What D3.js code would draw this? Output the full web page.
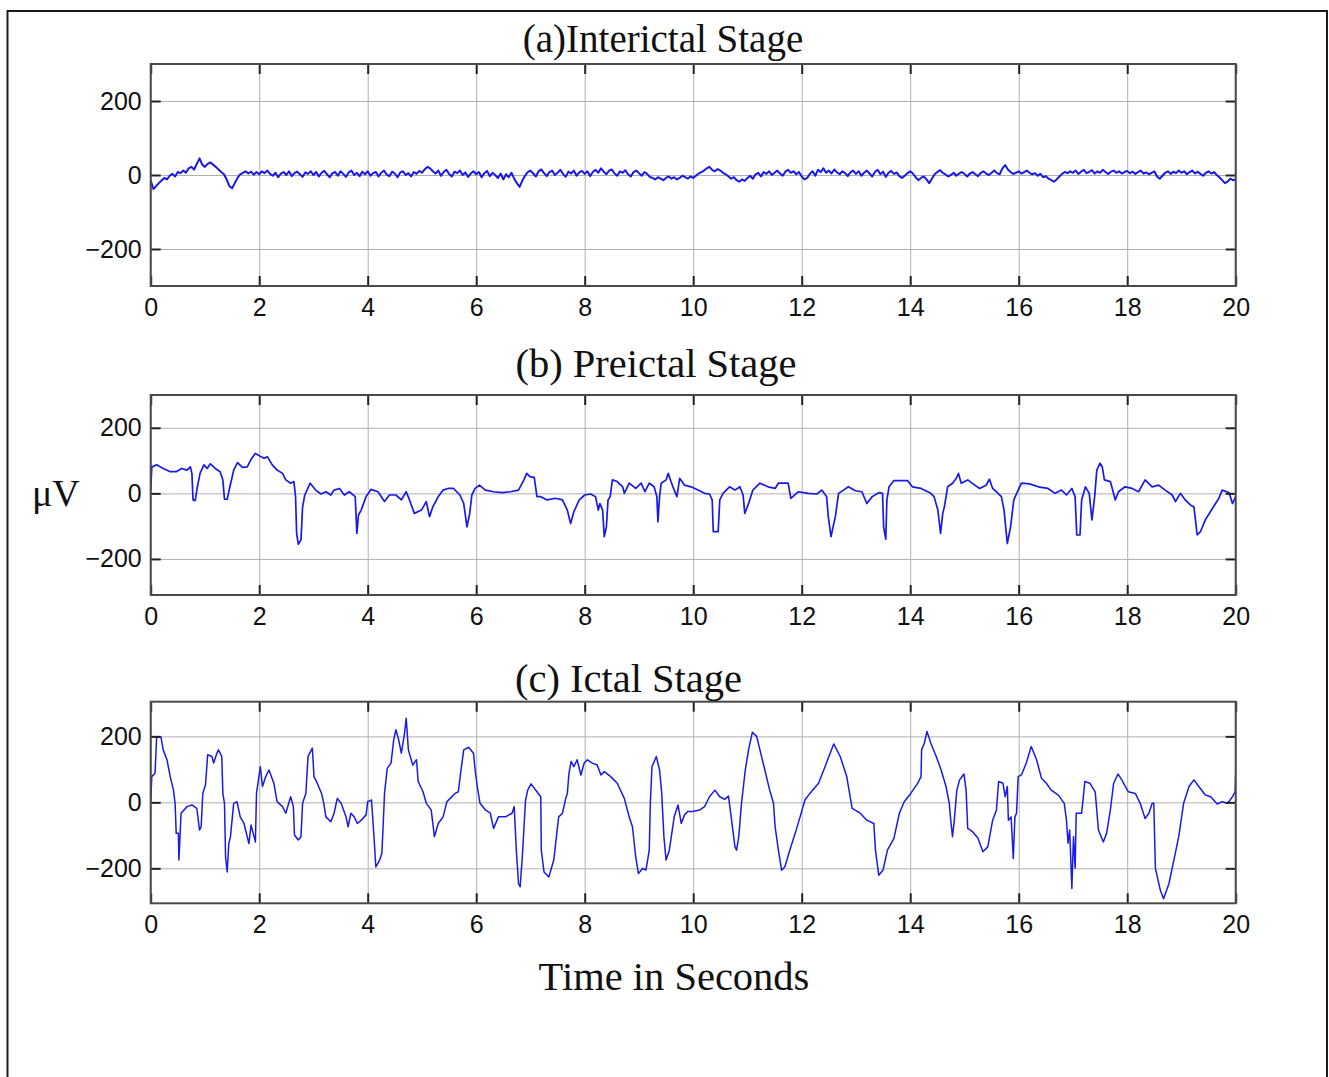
<!DOCTYPE html>
<html>
<head>
<meta charset="utf-8">
<script src="https://cdn.jsdelivr.net/npm/d3@7"></script>
<style>
  body { margin: 0; background: #fff; }
  svg { display: block; }
</style>
</head>
<body>
<script>
// ---------------- DATA ----------------
const xTicks = [0, 2, 4, 6, 8, 10, 12, 14, 16, 18, 20];
const yTicks = [-200, 0, 200];
const panelTitles = ["(a)Interictal Stage", "(b) Preictal Stage", "(c) Ictal Stage"];
const yAxisLabel = "\u03bcV";
const xAxisLabel = "Time in Seconds";

// Interictal: sampled every 0.05 s (µV)
const interictalStep = 0.05;
const interictalValues = [
  -15,-38,-30,-22,-15,-8,-12,-2,3,-4,8,5,12,6,18,22,15,30,45,28,
  22,30,34,28,22,15,8,2,-12,-30,-36,-22,-8,2,6,10,4,9,1,8,
  2,10,5,12,3,-2,6,-6,4,8,0,10,-3,5,9,2,-5,7,3,10,
  0,8,-4,6,11,2,-6,5,8,-2,10,3,-5,7,12,0,6,-3,9,2,
  10,-2,5,8,-4,6,12,1,-3,9,4,-6,7,10,0,5,-4,8,3,11,
  6,15,22,18,10,4,12,-2,8,14,3,-4,9,5,12,0,7,-5,4,10,
  2,8,-6,5,11,-3,6,0,-8,4,-12,2,-6,6,-10,-22,-32,-15,-2,8,
  12,4,-4,10,15,5,-3,8,12,0,6,14,3,-5,9,4,12,-2,7,11,
  3,10,-3,8,14,6,18,9,2,12,15,4,-2,10,6,13,2,-4,8,12,
  5,-2,8,3,-5,-8,-12,-6,-10,-14,-8,-4,-10,-6,-12,-8,-2,-6,-10,-4,
  -8,-2,4,8,12,18,22,14,10,16,12,6,2,-4,-10,-6,-14,-18,-12,-16,
  -8,-2,-10,2,6,-4,8,3,10,0,6,12,4,-2,9,14,6,10,2,8,
  -4,-12,-8,3,10,-2,14,8,18,6,12,4,15,7,2,10,5,-3,8,12,
  3,10,-2,6,12,4,-4,8,14,2,9,-5,6,11,3,7,-3,-8,-2,5,
  10,4,-6,-14,-8,-4,-12,-22,-10,2,8,13,6,2,-4,0,6,-2,4,8,
  3,-4,4,8,2,-3,6,10,4,0,6,12,5,2,18,27,15,8,3,6,
  10,4,8,12,6,2,5,-2,3,-6,-3,-10,-14,-18,-12,-4,3,8,5,10,
  6,12,3,9,14,5,8,13,4,10,6,14,8,3,9,12,6,10,4,8,
  11,5,9,3,8,12,4,7,2,6,10,-4,-10,-2,6,10,3,9,5,12,
  6,10,2,8,12,4,9,3,-2,6,10,4,8,0,-6,-14,-22,-18,-10,-14,-12
];

// Preictal: [time s, µV]
const preictalSeries = [
  [0,10],[0.02,80],[0.11,87],[0.23,76],[0.36,66],[0.47,66],[0.57,76],[0.67,71],[0.73,81],[0.76,61],
  [0.78,-20],[0.82,-22],[0.86,20],[0.91,61],[0.98,87],[1.04,76],[1.10,90],[1.19,76],[1.28,66],[1.33,41],
  [1.36,-18],[1.41,-18],[1.46,20],[1.53,71],[1.60,94],[1.69,79],[1.78,81],[1.85,104],[1.93,122],[2.01,114],
  [2.09,107],[2.15,112],[2.24,87],[2.33,71],[2.43,61],[2.49,41],[2.58,31],[2.64,36],[2.67,-10],[2.69,-122],
  [2.72,-155],[2.77,-142],[2.80,-41],[2.84,-5],[2.94,31],[3.04,10],[3.14,-2],[3.23,5],[3.32,-5],[3.38,10],
  [3.48,15],[3.57,-5],[3.66,5],[3.77,-10],[3.80,-122],[3.83,-66],[3.88,-51],[3.97,-10],[4.06,12],[4.19,5],
  [4.31,-25],[4.40,-5],[4.52,-5],[4.62,-20],[4.71,5],[4.77,-20],[4.86,-61],[4.99,-51],[5.08,-25],[5.14,-71],
  [5.20,-41],[5.30,-10],[5.39,10],[5.48,15],[5.58,15],[5.70,-5],[5.77,-31],[5.83,-102],[5.88,-61],[5.92,-5],
  [5.98,15],[6.06,25],[6.17,10],[6.32,5],[6.48,2],[6.63,5],[6.78,10],[6.88,41],[6.93,61],[6.99,51],
  [7.07,49],[7.12,-10],[7.19,-10],[7.31,-20],[7.46,-15],[7.59,-20],[7.68,-51],[7.74,-92],[7.80,-56],[7.90,-20],
  [8.00,-5],[8.11,-2],[8.20,-10],[8.25,-51],[8.28,-31],[8.33,-51],[8.36,-132],[8.40,-102],[8.43,-20],[8.47,-10],
  [8.51,41],[8.60,36],[8.70,20],[8.73,0],[8.82,31],[8.94,15],[9.04,31],[9.11,5],[9.19,31],[9.28,20],
  [9.33,-10],[9.35,-87],[9.38,-10],[9.41,31],[9.50,41],[9.54,61],[9.59,36],[9.65,10],[9.70,-10],[9.75,46],
  [9.84,25],[9.96,20],[10.09,10],[10.21,0],[10.30,-2],[10.35,-20],[10.37,-117],[10.46,-117],[10.49,-20],[10.55,0],
  [10.67,20],[10.77,10],[10.86,20],[10.92,-5],[10.95,-61],[11.01,-36],[11.10,10],[11.23,31],[11.38,20],[11.51,15],
  [11.57,31],[11.75,31],[11.80,-15],[11.94,5],[12.12,0],[12.28,-2],[12.37,10],[12.46,-10],[12.49,-71],[12.54,-132],
  [12.62,-71],[12.68,0],[12.77,10],[12.86,20],[12.99,8],[13.11,5],[13.20,-31],[13.30,-10],[13.42,2],[13.49,0],
  [13.51,-102],[13.55,-140],[13.57,-20],[13.61,20],[13.70,39],[13.95,39],[14.04,20],[14.20,15],[14.38,0],[14.44,-10],
  [14.51,-51],[14.56,-122],[14.60,-61],[14.63,-41],[14.69,20],[14.78,31],[14.85,46],[14.89,61],[14.94,31],[15.06,41],
  [15.19,25],[15.28,15],[15.40,25],[15.46,43],[15.52,15],[15.62,0],[15.68,-10],[15.73,-51],[15.79,-153],[15.85,-102],
  [15.91,-20],[15.99,10],[16.05,31],[16.20,29],[16.36,20],[16.54,15],[16.67,0],[16.79,10],[16.88,-5],[16.98,15],
  [17.04,-10],[17.07,-127],[17.13,-127],[17.16,-20],[17.23,20],[17.30,0],[17.35,-81],[17.40,-10],[17.44,71],[17.50,92],
  [17.54,81],[17.58,41],[17.69,36],[17.78,-20],[17.84,5],[17.96,20],[18.09,15],[18.21,5],[18.33,41],[18.46,20],
  [18.58,25],[18.70,10],[18.83,-5],[18.89,-25],[18.98,0],[19.07,-20],[19.17,-36],[19.23,-41],[19.29,-127],[19.35,-117],
  [19.44,-81],[19.57,-46],[19.69,-15],[19.75,10],[19.88,2],[19.94,-31],[20,-10]
];

// Ictal: [time s, µV]
const ictalSeries = [
  [0,2],[0.02,78],[0.08,88],[0.11,198],[0.19,198],[0.23,159],[0.30,129],[0.36,78],[0.42,37],[0.45,-3],
  [0.47,-94],[0.51,-94],[0.52,-175],[0.56,-33],[0.67,-13],[0.76,-8],[0.85,-18],[0.90,-84],[0.93,-74],[0.96,27],
  [1.01,53],[1.05,144],[1.13,139],[1.16,119],[1.22,149],[1.25,159],[1.31,139],[1.33,27],[1.36,-3],[1.38,-165],
  [1.41,-211],[1.44,-125],[1.47,-104],[1.53,-3],[1.59,2],[1.65,-44],[1.72,-64],[1.81,-125],[1.85,-69],[1.93,-120],
  [1.95,27],[1.99,73],[2.02,108],[2.06,48],[2.12,78],[2.18,98],[2.27,58],[2.33,2],[2.43,-13],[2.49,-33],
  [2.58,17],[2.63,-13],[2.65,-99],[2.72,-114],[2.77,-104],[2.80,-3],[2.86,27],[2.90,139],[2.98,164],[3.01,78],
  [3.07,58],[3.15,27],[3.19,-3],[3.23,-44],[3.32,-59],[3.38,-33],[3.44,12],[3.51,-3],[3.60,-44],[3.64,-74],
  [3.69,-33],[3.75,-44],[3.81,-64],[3.88,-54],[3.97,-38],[4.00,2],[4.07,7],[4.11,-89],[4.15,-196],[4.22,-175],
  [4.26,-155],[4.28,-89],[4.31,27],[4.36,103],[4.43,119],[4.48,190],[4.52,220],[4.57,190],[4.62,149],[4.68,210],
  [4.71,255],[4.75,159],[4.83,113],[4.90,129],[4.93,63],[5.02,32],[5.08,-3],[5.17,-23],[5.23,-104],[5.30,-64],
  [5.39,-44],[5.46,2],[5.52,12],[5.61,27],[5.67,32],[5.72,98],[5.77,159],[5.86,167],[5.95,149],[5.98,98],
  [6.02,48],[6.07,-3],[6.17,-23],[6.26,-33],[6.32,-79],[6.41,-44],[6.54,-44],[6.66,-33],[6.70,-13],[6.74,-145],
  [6.78,-246],[6.81,-256],[6.85,-165],[6.91,7],[6.95,37],[7.01,56],[7.12,32],[7.19,17],[7.20,-145],[7.25,-211],
  [7.34,-226],[7.43,-175],[7.52,-44],[7.59,-33],[7.65,12],[7.68,27],[7.71,88],[7.75,124],[7.80,108],[7.86,129],
  [7.93,83],[7.99,119],[8.05,129],[8.14,119],[8.23,113],[8.30,83],[8.36,93],[8.48,78],[8.60,58],[8.73,12],
  [8.82,-44],[8.88,-74],[8.94,-165],[8.99,-216],[9.07,-200],[9.13,-205],[9.19,-145],[9.21,-3],[9.24,108],[9.32,139],
  [9.38,98],[9.42,27],[9.46,-104],[9.50,-175],[9.56,-145],[9.65,-44],[9.72,-8],[9.78,-64],[9.84,-38],[9.90,-28],
  [9.99,-28],[10.12,-23],[10.21,-13],[10.30,17],[10.40,37],[10.49,17],[10.58,9],[10.65,19],[10.70,-44],[10.77,-135],
  [10.80,-145],[10.84,-104],[10.89,-3],[10.96,98],[11.02,159],[11.09,212],[11.17,200],[11.23,159],[11.32,98],[11.41,37],
  [11.48,-3],[11.51,-74],[11.57,-145],[11.63,-206],[11.69,-195],[11.78,-145],[11.88,-94],[11.97,-44],[12.06,7],[12.15,27],
  [12.31,58],[12.43,108],[12.59,177],[12.71,139],[12.83,78],[12.93,-18],[13.08,-33],[13.20,-54],[13.33,-64],[13.36,-145],
  [13.42,-221],[13.50,-205],[13.58,-145],[13.70,-109],[13.80,-33],[13.89,2],[14.01,27],[14.14,58],[14.20,78],[14.21,159],
  [14.26,179],[14.31,215],[14.38,179],[14.48,139],[14.57,98],[14.66,48],[14.72,-3],[14.75,-59],[14.78,-104],[14.81,-59],
  [14.86,37],[14.91,68],[14.99,86],[15.03,37],[15.06,-79],[15.15,-89],[15.25,-109],[15.34,-150],[15.43,-135],[15.52,-54],
  [15.59,-23],[15.63,63],[15.71,58],[15.75,17],[15.79,48],[15.81,-54],[15.86,-44],[15.90,-170],[15.93,-44],[15.96,-33],
  [15.99,78],[16.05,83],[16.14,119],[16.23,169],[16.33,129],[16.42,73],[16.51,58],[16.60,37],[16.73,22],[16.84,-3],
  [16.88,-54],[16.91,-124],[16.94,-84],[16.98,-261],[17.01,-104],[17.04,-200],[17.06,-33],[17.16,-33],[17.22,63],[17.31,58],
  [17.41,32],[17.47,-84],[17.56,-120],[17.62,-94],[17.69,-23],[17.75,58],[17.83,86],[17.90,68],[18.02,32],[18.15,27],
  [18.24,-3],[18.33,-49],[18.40,-33],[18.46,-3],[18.49,-3],[18.52,-200],[18.61,-266],[18.67,-292],[18.77,-246],[18.86,-175],
  [18.95,-104],[19.04,-3],[19.14,48],[19.23,68],[19.32,48],[19.44,22],[19.54,17],[19.66,-5],[19.75,2],[19.85,-3],
  [19.94,17],[19.99,32],[20,91]
];

// ---------------- LAYOUT ----------------
const W = 1329, H = 1077;
const plotLeft = 150.7, plotRight = 1235.7;
const panels = [
  { title: panelTitles[0], top: 64,    bottom: 286,   yDomain: [-300, 300], titleX: 663, titleY: 52,  titleSize: 39,
    data: interictalValues.map((v, i) => [i * interictalStep, v]), lw: 2.0 },
  { title: panelTitles[1], top: 395,   bottom: 595,   yDomain: [-310, 300], titleX: 656, titleY: 377, titleSize: 40.5,
    data: preictalSeries, lw: 1.7 },
  { title: panelTitles[2], top: 701.7, bottom: 903.3, yDomain: [-306, 305], titleX: 628.5, titleY: 692, titleSize: 40.5,
    data: ictalSeries, lw: 1.5 }
];

const svg = d3.select("body").append("svg")
  .attr("width", W).attr("height", H)
  .style("font-family", "'Liberation Sans', Arial, sans-serif");

svg.append("rect").attr("width", W).attr("height", H).attr("fill", "#fff");

// Outer frame
svg.append("rect")
  .attr("x", 7.5).attr("y", 11).attr("width", 1319.5).attr("height", H + 10)
  .attr("fill", "none").attr("stroke", "#1a1a1a").attr("stroke-width", 2);

const x = d3.scaleLinear().domain([0, 20]).range([plotLeft, plotRight]);
const lineColor = "#1a1ae6";
const tickFont = "'Liberation Sans', Arial, sans-serif";

panels.forEach((p, idx) => {
  const y = d3.scaleLinear().domain(p.yDomain).range([p.bottom, p.top]);
  const h = p.bottom - p.top, w = plotRight - plotLeft;
  const g = svg.append("g");

  // vertical grid
  g.append("g").attr("transform", `translate(0,${p.bottom})`)
    .call(d3.axisBottom(x).tickValues(xTicks).tickSize(-h).tickFormat(""))
    .call(s => s.select(".domain").remove())
    .call(s => s.selectAll("line").attr("stroke", "#b0b0b0").attr("stroke-width", 1));
  // horizontal grid
  g.append("g").attr("transform", `translate(${plotLeft},0)`)
    .call(d3.axisLeft(y).tickValues(yTicks).tickSize(-w).tickFormat(""))
    .call(s => s.select(".domain").remove())
    .call(s => s.selectAll("line").attr("stroke", "#b0b0b0").attr("stroke-width", 1));

  // clip
  const clipId = "clip" + idx;
  svg.append("clipPath").attr("id", clipId).append("rect")
    .attr("x", plotLeft).attr("y", p.top).attr("width", w).attr("height", h);

  const line = d3.line().x(d => x(d[0])).y(d => y(d[1]));
  g.append("path").datum(p.data)
    .attr("clip-path", `url(#${clipId})`)
    .attr("d", line)
    .attr("fill", "none").attr("stroke", lineColor)
    .attr("stroke-width", p.lw).attr("stroke-linejoin", "round");

  // bottom axis with labels, inward ticks
  g.append("g").attr("transform", `translate(0,${p.bottom})`)
    .call(d3.axisBottom(x).tickValues(xTicks).tickSizeInner(-10).tickSizeOuter(0).tickPadding(12).tickFormat(d3.format("d")))
    .call(s => s.select(".domain").remove())
    .call(s => s.selectAll("line").attr("stroke", "#222").attr("stroke-width", 2))
    .call(s => s.selectAll("text").attr("font-size", 25).attr("fill", "#111").attr("font-family", tickFont));
  // top ticks
  g.append("g").attr("transform", `translate(0,${p.top})`)
    .call(d3.axisTop(x).tickValues(xTicks).tickSizeInner(-10).tickSizeOuter(0).tickFormat(""))
    .call(s => s.select(".domain").remove())
    .call(s => s.selectAll("line").attr("stroke", "#222").attr("stroke-width", 2));
  // left axis with labels
  g.append("g").attr("transform", `translate(${plotLeft},0)`)
    .call(d3.axisLeft(y).tickValues(yTicks).tickSizeInner(-10).tickSizeOuter(0).tickPadding(9).tickFormat(d3.format("d")))
    .call(s => s.select(".domain").remove())
    .call(s => s.selectAll("line").attr("stroke", "#222").attr("stroke-width", 2))
    .call(s => s.selectAll("text").attr("font-size", 25).attr("fill", "#111").attr("font-family", tickFont));
  // right ticks
  g.append("g").attr("transform", `translate(${plotRight},0)`)
    .call(d3.axisRight(y).tickValues(yTicks).tickSizeInner(-10).tickSizeOuter(0).tickFormat(""))
    .call(s => s.select(".domain").remove())
    .call(s => s.selectAll("line").attr("stroke", "#222").attr("stroke-width", 2));

  // plot box
  g.append("rect").attr("x", plotLeft).attr("y", p.top).attr("width", w).attr("height", h)
    .attr("fill", "none").attr("stroke", "#4a4a4a").attr("stroke-width", 2);

  // title
  svg.append("text").attr("x", p.titleX).attr("y", p.titleY)
    .attr("text-anchor", "middle")
    .attr("font-family", "'Liberation Serif', 'Times New Roman', serif")
    .attr("font-size", p.titleSize).attr("fill", "#111")
    .text(p.title);
});

// y-axis unit label
svg.append("text").attr("x", 32).attr("y", 506)
  .attr("font-family", "'Liberation Serif', 'Times New Roman', serif")
  .attr("font-size", 38).attr("fill", "#111")
  .text(yAxisLabel);

// x-axis label
svg.append("text").attr("x", 674).attr("y", 990)
  .attr("text-anchor", "middle")
  .attr("font-family", "'Liberation Serif', 'Times New Roman', serif")
  .attr("font-size", 40.5).attr("fill", "#111")
  .text(xAxisLabel);
</script>
</body>
</html>
